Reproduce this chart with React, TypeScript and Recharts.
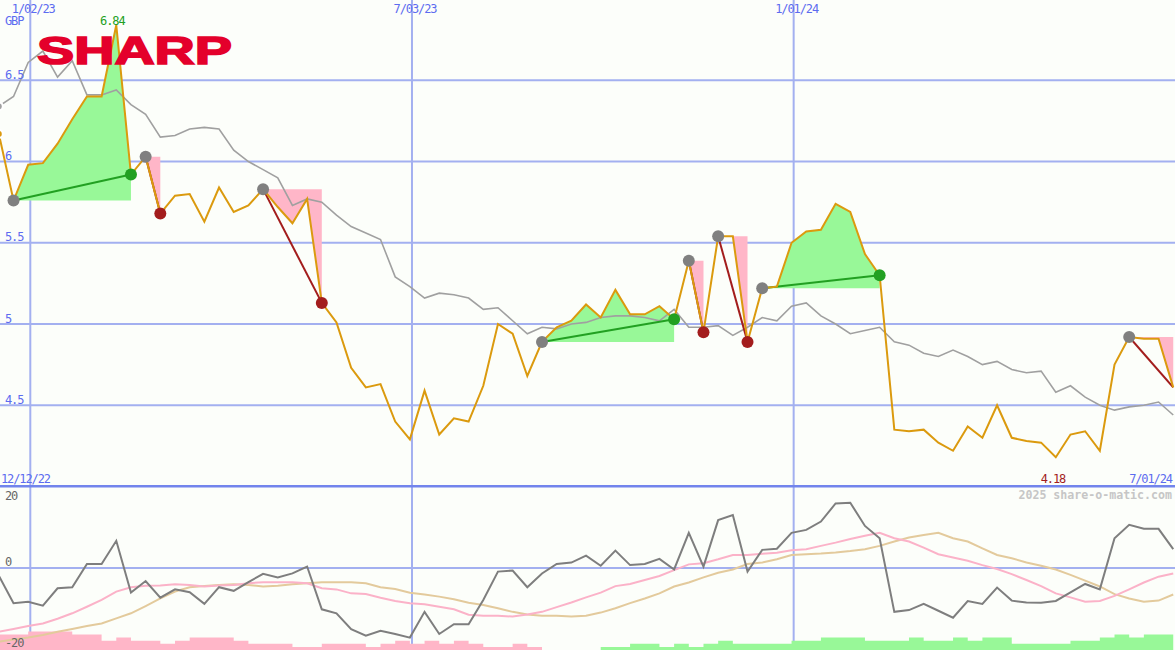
import React from 'react';
import { ComposedChart, Line, Area, Scatter, XAxis, YAxis, CartesianGrid } from 'recharts';

const W = 1175;
const TOP_H = 487;
const BOT_H = 163;
const FIRST_WEEK = -2; // week index of the first point (weeks from 1 Jan 2023)

// weekly close, GBP
const price = [
  6.17, 5.76, 5.98, 5.99, 6.11, 6.26, 6.4, 6.4, 6.84, 5.92, 6.03, 5.68, 5.79, 5.8, 5.63, 5.84, 5.69,
  5.73, 5.83, 5.72, 5.62, 5.77, 5.13, 5.01, 4.73, 4.61, 4.63, 4.4, 4.29, 4.59, 4.32, 4.42, 4.4,
  4.62, 5.0, 4.94, 4.68, 4.89, 4.98, 5.02, 5.12, 5.04, 5.21, 5.06, 5.06, 5.11, 5.03, 5.39, 4.95,
  5.54, 5.54, 4.89, 5.22, 5.23, 5.5, 5.57, 5.58, 5.74, 5.69, 5.43, 5.3, 4.35, 4.34, 4.35, 4.27,
  4.22, 4.37, 4.3, 4.5, 4.3, 4.28, 4.27, 4.18, 4.32, 4.34, 4.22, 4.75, 4.92, 4.91, 4.91, 4.61,
];

// moving average (grey)
const average = [
  6.34, 6.4, 6.61, 6.68, 6.52, 6.62, 6.41, 6.41, 6.44, 6.35, 6.29, 6.15, 6.16, 6.2, 6.21, 6.2, 6.07,
  6.0, 5.95, 5.9, 5.73, 5.77, 5.75, 5.67, 5.6, 5.56, 5.52, 5.29, 5.23, 5.16, 5.19, 5.18, 5.16,
  5.09, 5.1, 5.02, 4.94, 4.98, 4.97, 5.0, 5.01, 5.04, 5.05, 5.05, 5.04, 5.02, 5.09, 4.98, 4.98,
  4.99, 4.93, 4.98, 5.04, 5.02, 5.11, 5.13, 5.05, 5.0, 4.94, 4.96, 4.98, 4.89, 4.87, 4.82, 4.8,
  4.84, 4.8, 4.75, 4.77, 4.72, 4.7, 4.71, 4.58, 4.62, 4.55, 4.5, 4.47, 4.49, 4.5, 4.52, 4.44,
];

// lower panel
const momentum = [
  -2.1, -9.7, -9.3, -10.4, -5.6, -5.3, 1.1, 1.1, 7.5, -6.8, -3.6, -8.2, -5.9, -6.7, -9.9, -5.3, -6.3,
  -3.9, -1.6, -2.6, -1.5, 0.4, -11.4, -12.5, -16.9, -18.7, -17.3, -18.2, -19.2, -12.1, -18.2, -15.5, -15.5,
  -8.8, -1.0, -0.7, -5.3, -1.5, 1.1, 1.5, 3.4, 0.6, 4.8, 0.8, 1.1, 2.5, -0.4, 9.7, 0.4,
  13.2, 14.6, -1.0, 5.0, 5.3, 9.7, 10.5, 12.8, 17.8, 18.0, 11.6, 8.2, -12.1, -11.6, -9.9, -11.8,
  -13.7, -9.1, -9.9, -5.4, -9.0, -9.5, -9.6, -9.1, -6.7, -4.4, -5.9, 8.2, 11.9, 10.8, 10.8, 5.2,
];

const fastSignal = [
  -17.6, -16.8, -16.0, -15.3, -14.0, -12.5, -10.7, -8.8, -6.5, -5.3, -4.9, -4.8, -4.5, -4.7, -5.1, -4.8, -4.7,
  -4.2, -3.9, -3.9, -3.9, -4.2, -5.6, -5.9, -7.0, -7.2, -8.2, -9.1, -9.7, -10.0, -10.7, -11.4, -12.9,
  -13.2, -13.2, -13.4, -12.8, -12.1, -10.8, -9.5, -8.1, -6.8, -5.0, -4.4, -3.3, -2.2, -0.6, 1.0, 1.3,
  2.4, 3.6, 3.6, 3.9, 4.2, 4.9, 5.2, 6.1, 7.0, 8.0, 8.9, 9.7, 8.2, 7.3, 5.6, 3.8,
  2.9, 2.0, 0.8, -0.3, -1.7, -3.3, -5.0, -7.0, -8.1, -9.3, -9.1, -7.7, -5.9, -4.0, -2.4, -1.5,
];

const slowSignal = [
  -20.3, -19.7, -19.2, -18.5, -17.6, -16.8, -16.0, -15.3, -13.9, -12.5, -10.5, -8.4, -6.5, -5.3, -5.0, -4.7, -4.5,
  -4.7, -5.1, -4.9, -4.5, -4.2, -3.9, -3.9, -3.9, -4.2, -5.3, -5.8, -6.8, -7.3, -7.9, -8.6, -9.6,
  -10.2, -11.1, -12.1, -12.8, -13.2, -13.2, -13.4, -13.2, -12.3, -11.1, -9.7, -8.4, -7.0, -5.1, -4.0, -2.6,
  -1.3, -0.4, 1.1, 1.5, 2.4, 3.6, 3.8, 4.0, 4.3, 4.7, 5.2, 6.1, 7.3, 8.4, 9.1, 9.7,
  8.2, 7.3, 5.4, 3.6, 2.7, 1.5, 0.6, -0.4, -1.9, -3.5, -5.1, -7.2, -8.4, -9.3, -9.0, -7.3,
];

// signed strength histogram (negative = pink, positive = green)
const strength = [
  -5, -5, -6, -6, -6, -5, -5, -3, -4, -3, -3, -2, -3, -4, -4, -4, -3,
  -2, -2, -2, -1, -1, -2, -2, -2, -1, -2, -3, -2, -3, -2, -3, -2,
  -1, -1, -2, -1, 0, 0, 0, 0, 1, 1, 2, 2, 1, 2, 1, 2,
  3, 2, 2, 2, 2, 3, 3, 4, 4, 4, 3, 3, 3, 4, 3, 3,
  4, 3, 4, 4, 2, 2, 2, 2, 3, 3, 4, 5, 4, 5, 5, 5,
];

// trades (week indexes)
const tradeEntry = [-1, 8, 16, 35, 45, 47, 50, 75];
const tradeExit = [7, 9, 20, 44, 46, 49, 58, 78];
const tradeWin = [true, false, false, true, false, false, true, false];
const tradeOpen = [false, false, false, false, false, false, false, true];

const dateTicks = [0.143, 26.143, 52.143];
const dateLabels = ['1/02/23', '7/03/23', '1/01/24'];
const priceTicks = [4.5, 5, 5.5, 6, 6.5];
const priceLabels = ['4.5', '5', '5.5', '6', '6.5'];

const X_DOMAIN: [number, number] = [-1.921, 78.12];
const P_DOMAIN: [number, number] = [3.997, 6.994];
const M_DOMAIN: [number, number] = [-22.62, 22.34];

const rows = price.map((p, i) => {
  const k = i + FIRST_WEEK;
  const row: any = {
    k,
    price: p,
    avg: average[i],
    mom: momentum[i],
    fast: fastSignal[i],
    slow: slowSignal[i],
    neg: strength[i] < 0 ? -strength[i] : 0,
    pos: strength[i] > 0 ? strength[i] : 0,
  };
  tradeEntry.forEach((e, t) => {
    const x = tradeExit[t];
    row['a' + t] = k >= e && k <= x ? p : null;
    row['l' + t] = k === e || k === x ? p : null;
  });
  return row;
});

const at = (k: number) => price[k - FIRST_WEEK];
const entryPts = tradeEntry.map((k) => ({ k, v: at(k) }));
const winPts = tradeExit.filter((_, t) => tradeWin[t]).map((k) => ({ k, v: at(k) }));
const lossPts = tradeExit.filter((_, t) => !tradeWin[t] && !tradeOpen[t]).map((k) => ({ k, v: at(k) }));

const dot = (color: string) => (props: any) => <circle cx={props.cx} cy={props.cy} r={6} fill={color} />;

const toPx = (k: number) => ((k - X_DOMAIN[0]) / (X_DOMAIN[1] - X_DOMAIN[0])) * W;
const toPy = (v: number) => ((P_DOMAIN[1] - v) / (P_DOMAIN[1] - P_DOMAIN[0])) * TOP_H;

const GRID = '#A3B0F0';
const mono = "'DejaVu Sans Mono', monospace";

export default function App() {
  return (
    <div style={{ position: 'absolute', left: 0, top: 0, width: W, height: 650, background: '#FCFEFA', overflow: 'hidden' }}>
      <div style={{ position: 'absolute', left: 0, top: 0 }}>
        <ComposedChart width={W} height={TOP_H} data={rows} margin={{ top: 0, right: 0, bottom: 0, left: 0 }}>
          <CartesianGrid stroke={GRID} strokeWidth={2} horizontalValues={priceTicks} verticalValues={dateTicks} />
          <XAxis dataKey="k" type="number" domain={X_DOMAIN} allowDataOverflow hide />
          <YAxis type="number" domain={P_DOMAIN} allowDataOverflow hide />
          {tradeEntry.map((e, t) => (
            <Area
              key={'a' + t}
              dataKey={'a' + t}
              baseValue={at(e)}
              type="linear"
              stroke="none"
              fill={tradeWin[t] ? '#98F898' : '#FFB6C8'}
              fillOpacity={1}
              isAnimationActive={false}
            />
          ))}
          <Line dataKey="avg" type="linear" stroke="#A0A0A0" strokeWidth={1.6} dot={false} isAnimationActive={false} />
          <Scatter data={entryPts} dataKey="v" shape={dot('#808080')} isAnimationActive={false} />
          <Scatter data={winPts} dataKey="v" shape={dot('#22A022')} isAnimationActive={false} />
          <Scatter data={lossPts} dataKey="v" shape={dot('#A31D1D')} isAnimationActive={false} />
          {tradeEntry.map((e, t) => (
            <Line
              key={'l' + t}
              dataKey={'l' + t}
              type="linear"
              connectNulls
              stroke={tradeWin[t] ? '#22A022' : '#A31D1D'}
              strokeWidth={2}
              dot={false}
              isAnimationActive={false}
            />
          ))}
          <Line dataKey="price" type="linear" stroke="#DB9A0E" strokeWidth={2} dot={false} isAnimationActive={false} />
        </ComposedChart>
      </div>
      <div style={{ position: 'absolute', left: 0, top: TOP_H }}>
        <ComposedChart width={W} height={BOT_H} data={rows} margin={{ top: 0, right: 0, bottom: 0, left: 0 }}>
          <CartesianGrid stroke={GRID} strokeWidth={2} horizontalValues={[0]} verticalValues={dateTicks} />
          <XAxis dataKey="k" type="number" domain={X_DOMAIN} allowDataOverflow hide />
          <YAxis type="number" domain={M_DOMAIN} allowDataOverflow hide />
          <YAxis yAxisId="bars" type="number" domain={[0, 52.6]} allowDataOverflow hide />
          <Area yAxisId="bars" dataKey="neg" type="stepAfter" baseValue={0} stroke="none" fill="#FFB6C8" fillOpacity={1} isAnimationActive={false} />
          <Area yAxisId="bars" dataKey="pos" type="stepAfter" baseValue={0} stroke="none" fill="#98F898" fillOpacity={1} isAnimationActive={false} />
          <Line dataKey="slow" type="linear" stroke="#E3CA9C" strokeWidth={2} dot={false} isAnimationActive={false} />
          <Line dataKey="fast" type="linear" stroke="#FBB2C8" strokeWidth={2} dot={false} isAnimationActive={false} />
          <Line dataKey="mom" type="linear" stroke="#7E7E7E" strokeWidth={2} dot={false} isAnimationActive={false} />
        </ComposedChart>
      </div>
      <svg width={W} height={650} style={{ position: 'absolute', left: 0, top: 0, pointerEvents: 'none' }}>
        <text
          x={37}
          y={63.5}
          fontFamily="'Liberation Sans', Arial, sans-serif"
          fontWeight={700}
          fontSize={39}
          fill="#E4002B"
          stroke="#E4002B"
          strokeWidth={1.6}
          textLength={195}
          lengthAdjust="spacingAndGlyphs"
        >
          SHARP
        </text>
        <line x1={0} x2={W} y1={486.3} y2={486.3} stroke="#7284EC" strokeWidth={2.5} />
        <g fontFamily={mono} fontSize={12} letterSpacing={-1.1}>
          {dateLabels.map((d, i) => (
            <text key={d} x={toPx(dateTicks[i]) + 3} y={13} textAnchor="middle" fill="#5C6CF0">{d}</text>
          ))}
          <text x={5} y={25} fill="#5C6CF0">GBP</text>
          {priceLabels.map((l, i) => (
            <text key={l} x={5} y={toPy(priceTicks[i]) - 1.5} fill="#5C6CF0">{l}</text>
          ))}
          <text x={toPx(6) - 4} y={25} textAnchor="middle" fill="#22A022">6.84</text>
          <text x={1053} y={483} textAnchor="middle" fill="#A31D1D">4.18</text>
          <text x={1} y={483} fill="#5C6CF0">12/12/22</text>
          <text x={1172} y={483} textAnchor="end" fill="#5C6CF0">7/01/24</text>
          <text x={5} y={500} fill="#666666">20</text>
          <text x={5} y={565.5} fill="#666666">0</text>
          <text x={5} y={646.5} fill="#666666">-20</text>
        </g>
        <text x={1172} y={499} textAnchor="end" fontFamily={mono} fontWeight={700} fontSize={11.6} fill="#C6C6C6">
          2025 share-o-matic.com
        </text>
      </svg>
    </div>
  );
}
